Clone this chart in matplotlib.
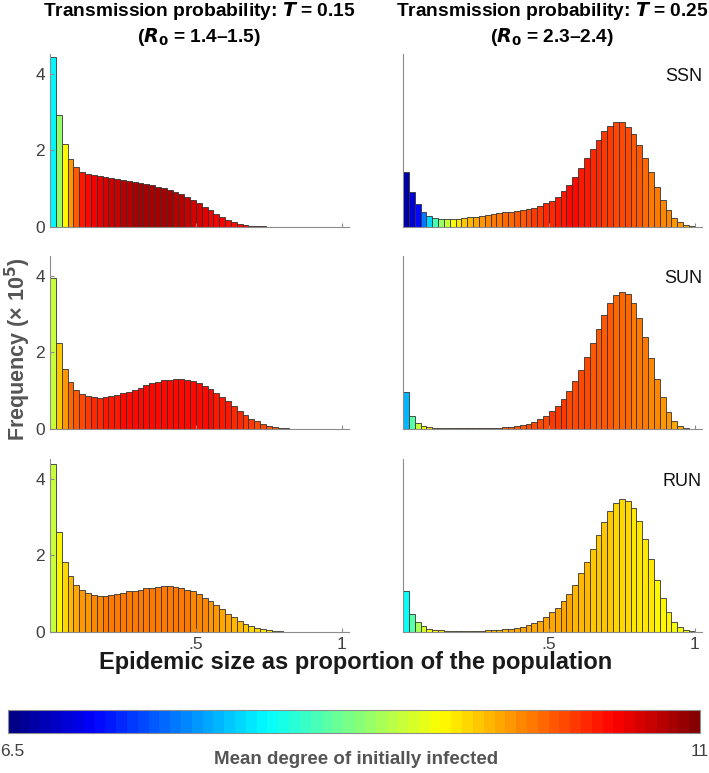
#!/usr/bin/env python3

from matplotlib import pyplot as plt
from matplotlib.colors import ListedColormap, Normalize
import matplotlib as mpl
import numpy as np

# histogram bins: 50 bins of width 0.02 on the epidemic size axis
n_bins = 50
bin_width = 0.02

# frequency (x 10^5) per bin
ssn_low = [4.44, 2.93, 2.16, 1.78, 1.56, 1.44, 1.39, 1.35, 1.32, 1.30,
           1.28, 1.26, 1.23, 1.21, 1.18, 1.15, 1.12, 1.09, 1.05, 1.01,
           0.97, 0.91, 0.85, 0.78, 0.70, 0.62, 0.53, 0.44, 0.35, 0.27,
           0.19, 0.13, 0.085, 0.055, 0.035, 0.022, 0.014, 0.009, 0.006, 0.004,
           0.002, 0.001, 0, 0, 0, 0, 0, 0, 0, 0]
ssn_high = [1.44, 0.91, 0.61, 0.39, 0.29, 0.24, 0.22, 0.21, 0.21, 0.22,
            0.23, 0.25, 0.27, 0.29, 0.31, 0.33, 0.36, 0.38, 0.40, 0.42,
            0.44, 0.46, 0.50, 0.55, 0.62, 0.69, 0.79, 0.93, 1.10, 1.31,
            1.55, 1.79, 2.04, 2.28, 2.50, 2.65, 2.74, 2.74, 2.62, 2.42,
            2.13, 1.81, 1.43, 1.04, 0.71, 0.44, 0.24, 0.13, 0.06, 0.02]
sun_low = [3.95, 2.26, 1.57, 1.22, 1.03, 0.92, 0.86, 0.83, 0.82, 0.83,
           0.86, 0.89, 0.93, 0.97, 1.03, 1.08, 1.14, 1.19, 1.24, 1.27,
           1.29, 1.30, 1.30, 1.28, 1.25, 1.19, 1.13, 1.05, 0.95, 0.84,
           0.72, 0.60, 0.48, 0.37, 0.27, 0.20, 0.13, 0.09, 0.05, 0.03,
           0.02, 0.01, 0.005, 0, 0, 0, 0, 0, 0, 0]
sun_high = [0.97, 0.35, 0.16, 0.08, 0.04, 0.025, 0.02, 0.015, 0.015, 0.015,
            0.015, 0.015, 0.02, 0.02, 0.025, 0.03, 0.035, 0.045, 0.06, 0.08,
            0.10, 0.14, 0.18, 0.25, 0.34, 0.46, 0.61, 0.78, 0.99, 1.25,
            1.54, 1.89, 2.24, 2.61, 2.97, 3.28, 3.49, 3.57, 3.53, 3.30,
            2.90, 2.40, 1.85, 1.30, 0.83, 0.45, 0.20, 0.08, 0.03, 0.01]
run_low = [4.38, 2.61, 1.84, 1.46, 1.23, 1.10, 1.02, 0.97, 0.95, 0.95,
           0.96, 0.99, 1.02, 1.06, 1.08, 1.11, 1.14, 1.16, 1.18, 1.19,
           1.19, 1.18, 1.16, 1.11, 1.06, 0.99, 0.90, 0.81, 0.70, 0.59,
           0.47, 0.38, 0.30, 0.22, 0.16, 0.11, 0.07, 0.045, 0.028, 0.017,
           0.01, 0.005, 0.002, 0, 0, 0, 0, 0, 0, 0]
run_high = [1.07, 0.46, 0.26, 0.15, 0.09, 0.06, 0.045, 0.035, 0.03, 0.03,
            0.03, 0.03, 0.03, 0.035, 0.04, 0.045, 0.055, 0.07, 0.09, 0.11,
            0.14, 0.18, 0.23, 0.30, 0.38, 0.51, 0.64, 0.81, 1.00, 1.23,
            1.53, 1.83, 2.17, 2.53, 2.87, 3.15, 3.36, 3.47, 3.43, 3.23,
            2.91, 2.43, 1.91, 1.36, 0.89, 0.53, 0.27, 0.12, 0.05, 0.02]

# mean degree of initially infected per bin (bar colour)
ssn_low_deg = [8.17, 8.88, 9.33, 9.80, 10.05, 10.30, 10.42, 10.50, 10.56, 10.62,
               10.66, 10.70, 10.74, 10.78, 10.81, 10.83, 10.83, 10.83, 10.83, 10.83,
               10.81, 10.78, 10.73, 10.69, 10.64, 10.60, 10.55, 10.50, 10.46, 10.44,
               10.42, 10.42, 10.42, 10.37, 10.37, 10.37, 10.37, 10.37, 10.37, 10.37,
               10.37, 10.37, 10.37, 10.37, 10.37, 10.37, 10.37, 10.37, 10.37, 10.37]
ssn_high_deg = [6.68, 6.86, 7.13, 7.60, 8.00, 8.50, 8.84, 9.10, 9.30, 9.45,
                9.56, 9.65, 9.72, 9.78, 9.83, 9.88, 9.92, 9.96, 10.00, 10.04,
                10.08, 10.12, 10.16, 10.20, 10.24, 10.28, 10.32, 10.35, 10.37, 10.37,
                10.35, 10.32, 10.28, 10.24, 10.20, 10.17, 10.14, 10.12, 10.10, 10.06,
                10.02, 9.98, 9.94, 9.90, 9.86, 9.82, 9.78, 9.74, 9.70, 9.65]
sun_low_deg = [9.10, 9.56, 9.80, 9.96, 10.06, 10.15, 10.20, 10.24, 10.28, 10.31,
               10.33, 10.35, 10.37, 10.37, 10.37, 10.37, 10.37, 10.37, 10.37, 10.37,
               10.37, 10.37, 10.37, 10.37, 10.37, 10.37, 10.37, 10.37, 10.35, 10.33,
               10.30, 10.27, 10.24, 10.20, 10.17, 10.14, 10.10, 10.06, 10.02, 9.98,
               9.95, 9.95, 9.95, 9.95, 9.95, 9.95, 9.95, 9.95, 9.95, 9.95]
sun_high_deg = [7.85, 8.55, 9.10, 9.30, 9.40, 9.50, 9.55, 9.60, 9.65, 9.70,
                9.74, 9.78, 9.82, 9.86, 9.90, 9.93, 9.96, 9.99, 10.02, 10.05,
                10.08, 10.10, 10.12, 10.14, 10.15, 10.16, 10.16, 10.16, 10.15, 10.14,
                10.12, 10.10, 10.08, 10.06, 10.04, 10.02, 10.00, 9.98, 9.96, 9.94,
                9.92, 9.90, 9.87, 9.84, 9.80, 9.76, 9.72, 9.68, 9.64, 9.60]
run_low_deg = [9.10, 9.32, 9.50, 9.62, 9.70, 9.76, 9.80, 9.84, 9.87, 9.89,
               9.90, 9.90, 9.90, 9.90, 9.90, 9.90, 9.90, 9.90, 9.90, 9.90,
               9.90, 9.90, 9.90, 9.89, 9.87, 9.85, 9.82, 9.79, 9.76, 9.72,
               9.68, 9.64, 9.60, 9.56, 9.52, 9.48, 9.45, 9.42, 9.40, 9.38,
               9.38, 9.38, 9.38, 9.38, 9.38, 9.38, 9.38, 9.38, 9.38, 9.38]
run_high_deg = [8.20, 8.60, 8.95, 9.15, 9.28, 9.35, 9.40, 9.45, 9.48, 9.50,
                9.52, 9.54, 9.56, 9.58, 9.60, 9.62, 9.64, 9.66, 9.68, 9.70,
                9.71, 9.72, 9.72, 9.72, 9.72, 9.71, 9.70, 9.69, 9.67, 9.65,
                9.63, 9.61, 9.59, 9.57, 9.55, 9.53, 9.51, 9.49, 9.47, 9.45,
                9.43, 9.41, 9.39, 9.37, 9.35, 9.33, 9.31, 9.29, 9.27, 9.25]

network_names = ['SSN', 'SUN', 'RUN']
column_titles = ['Transmission probability: $\\mathit{T}$ = 0.15\n($\\mathit{R}_\\mathbf{0}$ = 1.4\u20131.5)',
                 'Transmission probability: $\\mathit{T}$ = 0.25\n($\\mathit{R}_\\mathbf{0}$ = 2.3\u20132.4)']
deg_min, deg_max = 6.5, 11

narrow = ['Liberation Sans Narrow', 'Liberation Sans', 'DejaVu Sans']
plt.rcParams['font.family'] = ['Liberation Sans', 'DejaVu Sans']
plt.rcParams['mathtext.fontset'] = 'custom'
plt.rcParams['mathtext.rm'] = 'Liberation Sans Narrow:bold'
plt.rcParams['mathtext.it'] = 'Liberation Sans Narrow:italic:bold'
plt.rcParams['mathtext.bf'] = 'Liberation Sans Narrow:bold'


def matlab_jet(n=64):
    # the classic MATLAB jet, which is a bit different from matplotlib's
    x = (np.arange(n) + 0.5) / n
    r = np.clip(1.5 - np.abs(4 * x - 3), 0, 1)
    g = np.clip(1.5 - np.abs(4 * x - 2), 0, 1)
    b = np.clip(1.5 - np.abs(4 * x - 1), 0, 1)
    return ListedColormap(np.column_stack([r, g, b]))


cmap = matlab_jet(64)
norm = Normalize(deg_min, deg_max)

heights = [[ssn_low, ssn_high], [sun_low, sun_high], [run_low, run_high]]
degrees = [[ssn_low_deg, ssn_high_deg], [sun_low_deg, sun_high_deg], [run_low_deg, run_high_deg]]

fig = plt.figure(figsize=(7.09, 7.73), dpi=100)
W, H = 709, 773
col_left = [50, 403]
col_width = 299
row_bottom = [227, 429, 632]
row_height = 173

edges = np.arange(n_bins) * bin_width

for r in range(3):
    for c in range(2):
        ax = fig.add_axes([col_left[c] / W, 1 - row_bottom[r] / H, col_width / W, row_height / H])
        cols = cmap(norm(np.array(degrees[r][c])))
        ax.bar(edges, heights[r][c], width=bin_width, align='edge', color=cols,
               edgecolor='#333333', linewidth=0.6)
        ax.set_xlim(0, 1.025)
        ax.set_ylim(0, 4.52)
        for s in ['top', 'right']:
            ax.spines[s].set_visible(False)
        for s in ['left', 'bottom']:
            ax.spines[s].set_color('#8c8c8c')
            ax.spines[s].set_linewidth(0.8)
        ax.set_xticks([0.5, 1])
        ax.set_yticks([0, 2, 4])
        ax.tick_params(direction='in', length=3, color='#8c8c8c', labelsize=12.5,
                       labelcolor='#404040')
        if r == 2:
            ax.set_xticklabels(['.5', '1'])
        else:
            ax.set_xticklabels([])
        if c == 0:
            ax.set_yticklabels(['0', '2', '4'])
        else:
            ax.set_yticklabels([])
            ax.tick_params(axis='y', length=0)
            ax.text(1.0, 0.87, network_names[r], transform=ax.transAxes,
                    ha='right', va='center', fontsize=13, color='#111111')

for c in range(2):
    fig.text((col_left[c] + col_width / 2) / W, 1 - 24 / H, column_titles[c],
             ha='center', va='center', fontsize=13.8, fontweight='bold',
             family=narrow, linespacing=1.2)

fig.text(18 / W, 1 - 349 / H, 'Frequency (\u00d7 10$^\\mathbf{5}$)', rotation=90,
         ha='center', va='center', fontsize=15.5, fontweight='bold',
         family=narrow, color='#555555')
fig.text(356 / W, 1 - 662 / H, 'Epidemic size as proportion of the population',
         ha='center', va='center', fontsize=17, fontweight='bold',
         family=narrow, color='#1a1a1a')

cax = fig.add_axes([8 / W, 1 - 733 / H, 692 / W, 23 / H])
cb = mpl.colorbar.ColorbarBase(cax, cmap=cmap, norm=norm, orientation='horizontal')
cb.set_ticks([])
cb.outline.set_edgecolor('#8c8c8c')
cb.outline.set_linewidth(0.8)
fig.text(0, 1 - 751 / H, '6.5', ha='left', va='center', fontsize=12.5, color='#404040')
fig.text(1, 1 - 751 / H, '11', ha='right', va='center', fontsize=12.5, color='#404040')
fig.text(356 / W, 1 - 760 / H, 'Mean degree of initially infected',
         ha='center', va='center', fontsize=13.5, fontweight='bold',
         family=narrow, color='#555555')

fig.savefig('out.png', dpi=100)
